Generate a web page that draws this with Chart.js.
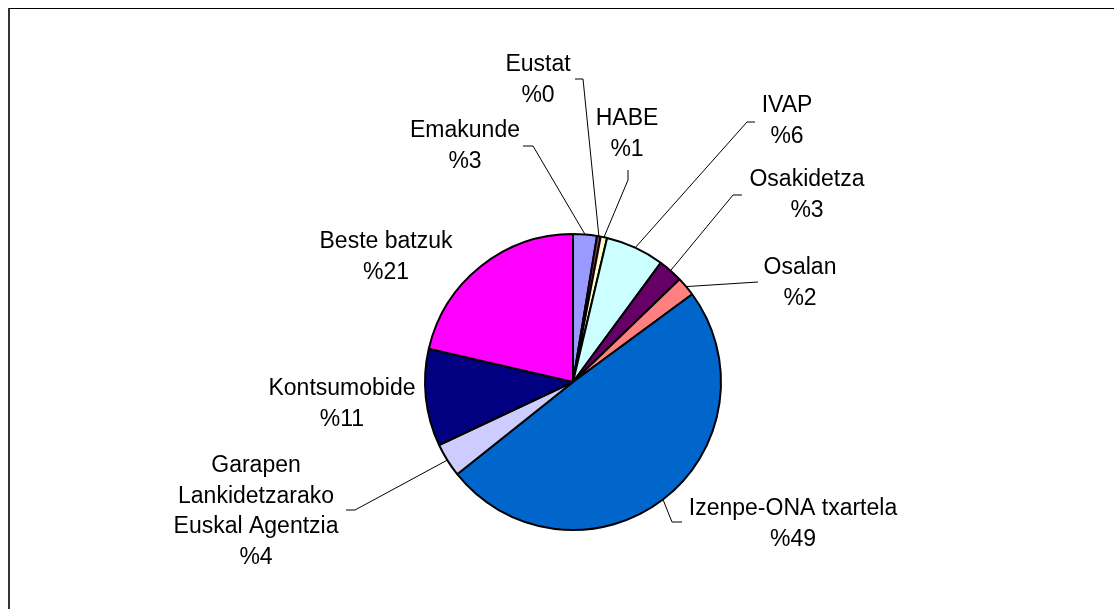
<!DOCTYPE html>
<html>
<head>
<meta charset="utf-8">
<script src="https://cdn.jsdelivr.net/npm/chart.js@4"></script>
<style>
  body { margin: 0; background: #fff; }
  #wrap { position: relative; width: 1114px; height: 609px; overflow: hidden; }
  #frame { position: absolute; left: 8px; top: 8px; width: 1200px; height: 700px;
           border-top: 1px solid #000; border-left: 2px solid #333; }
  canvas { position: absolute; left: 0; top: 0; }
</style>
</head>
<body>
<div id="wrap">
  <div id="frame"></div>
  <canvas id="pieChart" width="1114" height="609"></canvas>
</div>
<script>
// slices, clockwise from 12 o'clock
const categories = [
  "Emakunde",
  "Eustat",
  "HABE",
  "IVAP",
  "Osakidetza",
  "Osalan",
  "Izenpe-ONA txartela",
  "Garapen\nLankidetzarako\nEuskal Agentzia",
  "Kontsumobide",
  "Beste batzuk",
];
const shares = [2.6, 0.4, 0.7, 6.4, 2.7, 2.1, 49.4, 3.7, 10.6, 21.4];
const colors = [
  "#9999FF",
  "#993366",
  "#FFFFCC",
  "#CCFFFF",
  "#660066",
  "#FF8080",
  "#0066CC",
  "#CCCCFF",
  "#000080",
  "#FF00FF",
];

// label layout: center x and first baseline y, then leader line start + elbow
const labelAt = [
  [465, 137], [538, 71], [627, 125], [787, 112], [807, 186],
  [800, 274], [793, 515], [256, 472], [342, 395], [386, 248],
];
const leaders = [
  [[523, 146], [533, 146]],
  [[575, 79], [583, 79]],
  [[628, 170], [628, 180]],
  [[755, 122], [747, 122]],
  [[742, 195], [733, 195]],
  [[758, 282], [758, 282]],
  [[682, 522], [672, 522]],
  [[346, 510], [355, 510]],
  null,
  null,
];

const total = shares.reduce((a, b) => a + b, 0);

const labelPlugin = {
  id: "outLabels",
  afterDraw(chart) {
    let ctx = chart.ctx;
    let arcs = chart.getDatasetMeta(0).data;
    ctx.save();
    // leader lines
    ctx.strokeStyle = "#000";
    ctx.lineWidth = 1;
    arcs.forEach((arc, i) => {
      if (!leaders[i]) return;
      let p = arc.getProps(["x", "y", "startAngle", "endAngle", "outerRadius"], true);
      let mid = (p.startAngle + p.endAngle) / 2;
      let ex = p.x + Math.cos(mid) * p.outerRadius;
      let ey = p.y + Math.sin(mid) * p.outerRadius;
      ctx.beginPath();
      ctx.moveTo(leaders[i][0][0], leaders[i][0][1]);
      ctx.lineTo(leaders[i][1][0], leaders[i][1][1]);
      ctx.lineTo(ex, ey);
      ctx.stroke();
    });
    // texts
    ctx.fillStyle = "#000";
    ctx.font = "23px 'Liberation Sans', Arial, sans-serif";
    ctx.textAlign = "center";
    ctx.textBaseline = "alphabetic";
    categories.forEach((name, i) => {
      let lines = name.split("\n");
      lines.push("%" + Math.round((shares[i] / total) * 100));
      lines.forEach((line, j) => {
        ctx.fillText(line, labelAt[i][0], labelAt[i][1] + j * 30.5);
      });
    });
    ctx.restore();
  },
};

new Chart(document.getElementById("pieChart"), {
  type: "pie",
  data: {
    labels: categories,
    datasets: [
      {
        data: shares,
        backgroundColor: colors,
        borderColor: "#000",
        borderWidth: 2,
      },
    ],
  },
  options: {
    responsive: false,
    animation: false,
    layout: { padding: { top: 233, bottom: 78, left: 32, right: 0 } },
    plugins: {
      legend: { display: false },
      tooltip: { enabled: false },
    },
  },
  plugins: [labelPlugin],
});
</script>
</body>
</html>
